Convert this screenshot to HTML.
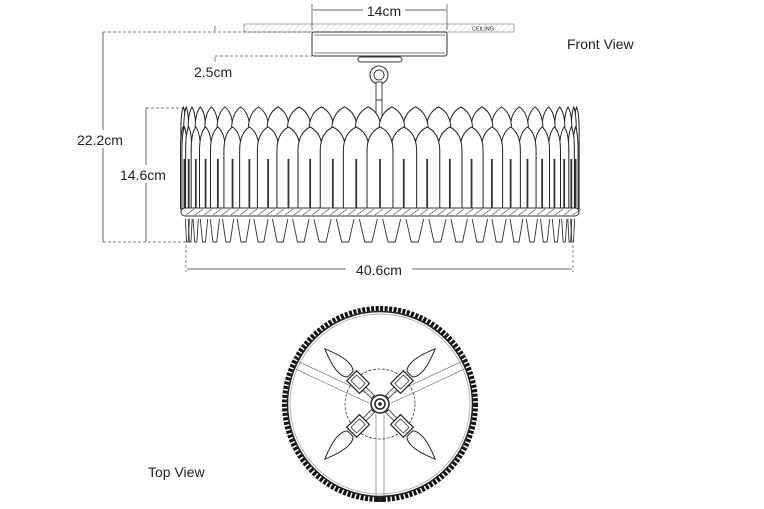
<!DOCTYPE html>
<html><head><meta charset="utf-8"><style>
html,body{margin:0;padding:0;background:#fff;}
svg{display:block;}
text{font-family:"Liberation Sans",sans-serif;fill:#222;}
</style></head><body>
<svg id="s" width="764" height="509" viewBox="0 0 764 509" xmlns="http://www.w3.org/2000/svg">
<defs>
<pattern id="h" width="6" height="8" patternUnits="userSpaceOnUse" patternTransform="skewX(-45)">
<line x1="0" y1="0" x2="0" y2="8" stroke="#999" stroke-width="0.7"/></pattern>
</defs>
<rect x="244" y="24" width="270" height="8" fill="url(#h)" stroke="#999" stroke-width="0.8"/>
<text x="472" y="30.5" font-size="5.5">CEILING</text>
<line x1="312" y1="4" x2="312" y2="30" stroke="#444" stroke-width="0.7"/>
<line x1="447" y1="4" x2="447" y2="30" stroke="#444" stroke-width="0.7"/>
<line x1="313" y1="10" x2="363" y2="10" stroke="#333" stroke-width="0.8"/>
<line x1="405" y1="10" x2="446" y2="10" stroke="#333" stroke-width="0.8"/>
<text x="384" y="16" font-size="14" text-anchor="middle">14cm</text>
<rect x="312" y="32" width="135" height="24" rx="2" fill="#fff" stroke="#333" stroke-width="1"/>
<line x1="314" y1="35" x2="445" y2="35" stroke="#555" stroke-width="0.7"/>
<line x1="314" y1="53" x2="445" y2="53" stroke="#555" stroke-width="0.7"/>
<rect x="358" y="57" width="44" height="5" rx="2.5" fill="#fff" stroke="#333" stroke-width="0.9"/>
<circle cx="379" cy="75" r="9" fill="#fff" stroke="#333" stroke-width="1"/>
<circle cx="379" cy="75" r="5" fill="#fff" stroke="#333" stroke-width="0.9"/>
<rect x="376" y="82" width="6" height="18" fill="#fff" stroke="#333" stroke-width="0.9"/>
<rect x="376" y="100" width="6" height="22" fill="#fff" stroke="#333" stroke-width="0.9"/>
<g stroke="#555" stroke-width="0.7" stroke-dasharray="3,2" fill="none">
<line x1="103" y1="32" x2="312" y2="32"/>
<line x1="215" y1="56" x2="312" y2="56"/>
<line x1="103" y1="242" x2="186" y2="242"/>
<line x1="146" y1="108" x2="186" y2="108"/>
</g>
<line x1="103" y1="32" x2="103" y2="242" stroke="#444" stroke-width="0.8"/>
<line x1="146" y1="108" x2="146" y2="242" stroke="#444" stroke-width="0.8"/>
<line x1="215" y1="26" x2="215" y2="31" stroke="#444" stroke-width="0.7"/>
<line x1="215" y1="57" x2="215" y2="62" stroke="#444" stroke-width="0.7"/>
<rect x="72" y="130" width="60" height="18" fill="#fff"/>
<text x="77" y="145" font-size="14">22.2cm</text>
<rect x="118" y="165" width="56" height="18" fill="#fff"/>
<text x="120" y="180" font-size="14">14.6cm</text>
<text x="194" y="77" font-size="14">2.5cm</text>
<text x="567" y="49" font-size="14">Front View</text>
<line x1="186" y1="245" x2="186" y2="272" stroke="#555" stroke-width="0.7" stroke-dasharray="3,2"/>
<line x1="573" y1="245" x2="573" y2="272" stroke="#555" stroke-width="0.7" stroke-dasharray="3,2"/>
<line x1="187" y1="269" x2="346" y2="269" stroke="#333" stroke-width="0.8"/>
<line x1="412" y1="269" x2="572" y2="269" stroke="#333" stroke-width="0.8"/>
<text x="379" y="275" font-size="14" text-anchor="middle">40.6cm</text>
<g id="leaves"></g>
<rect x="181" y="208" width="398" height="8" rx="4" fill="#fff" stroke="#333" stroke-width="1"/>
<g id="band"></g>
<g id="teeth"></g>
<text x="148" y="477" font-size="14">Top View</text>
<g id="top"></g>
</svg>
<script>
var NS="http://www.w3.org/2000/svg";
function el(p,t,a){var e=document.createElementNS(NS,t);for(var k in a)e.setAttribute(k,a[k]);p.appendChild(e);return e;}
var L=document.getElementById('leaves');
function row(n,off,tip,w){
 var items=[];
 for(var i=0;i<n;i++){var th=Math.PI*(i+off)/n;var c=Math.cos(th);items.push({x:380-197*c,s:Math.sin(th)});}
 items.sort(function(a,b){return a.s-b.s;});
 items.forEach(function(o){
  var hw=Math.max(2.5,w*o.s/2),x=o.x;
  var d="M"+(x-hw)+",209 L"+(x-hw)+","+(tip+24)+" Q"+(x-hw)+","+(tip+6)+" "+x+","+tip+" Q"+(x+hw)+","+(tip+6)+" "+(x+hw)+","+(tip+24)+" L"+(x+hw)+",209 Z";
  el(L,'path',{d:d,fill:'#fff',stroke:'#222','stroke-width':1});
  el(L,'line',{x1:x,y1:tip+32,x2:x,y2:209,stroke:'#333','stroke-width':1.8});
 });
}
row(26,0.5,107,26);
row(26,0,127,26);
var B=document.getElementById('band');
for(var x=186;x<576;x+=9)el(B,'line',{x1:x,y1:215,x2:x+8,y2:209,stroke:'#555','stroke-width':0.7});
var T=document.getElementById('teeth');
for(var i=0;i<26;i++){var th=Math.PI*(i+0.5)/26,c=Math.cos(th),s=Math.sin(th);
 var x=380-193*c,hw=Math.max(2,9*s);
 el(T,'path',{d:"M"+(x-hw)+",219 L"+(x-hw*0.4)+",242 L"+(x+hw*0.4)+",242 L"+(x+hw)+",219",fill:'none',stroke:'#333','stroke-width':0.9});}
var G=document.getElementById('top'),cx=380,cy=404;
el(G,'circle',{cx:cx,cy:cy,r:95.5,fill:'none',stroke:'#111','stroke-width':5,'stroke-dasharray':'3,1.5'});
el(G,'circle',{cx:cx,cy:cy,r:92.5,fill:'none',stroke:'#222','stroke-width':1.5});
el(G,'circle',{cx:cx,cy:cy,r:90,fill:'none',stroke:'#999','stroke-width':0.7});
el(G,'circle',{cx:cx,cy:cy,r:35,fill:'none',stroke:'#444','stroke-width':0.8,'stroke-dasharray':'3,1.5'});
[-25,205,90].forEach(function(a){var r=a*Math.PI/180;
 [-4,4].forEach(function(o){var px=-Math.sin(r)*o,py=Math.cos(r)*o;
 el(G,'line',{x1:cx+px+Math.cos(r)*10,y1:cy+py+Math.sin(r)*10,x2:cx+px+Math.cos(r)*91,y2:cy+py+Math.sin(r)*91,stroke:'#666','stroke-width':0.6});});});
[-45,45,135,225].forEach(function(a){
 var g=el(G,'g',{transform:"translate("+cx+","+cy+") rotate("+a+")"});
 el(g,'rect',{x:10,y:-2,width:12,height:4,fill:'#fff',stroke:'#333','stroke-width':0.8});
 el(g,'rect',{x:22,y:-7,width:18,height:14,fill:'#fff',stroke:'#222','stroke-width':1.2});
 el(g,'rect',{x:25,y:-4,width:12,height:8,fill:'none',stroke:'#333','stroke-width':0.8});
 el(g,'path',{d:"M42,-4 Q50,-12 78,0 Q50,12 42,4 Z",fill:'#fff',stroke:'#222','stroke-width':1});
});
el(G,'circle',{cx:cx,cy:cy,r:9,fill:'#fff',stroke:'#222','stroke-width':1.5});
el(G,'circle',{cx:cx,cy:cy,r:5,fill:'none',stroke:'#222','stroke-width':1.5});
el(G,'circle',{cx:cx,cy:cy,r:1.8,fill:'#222'});
el(G,'rect',{x:377,y:496,width:6,height:6,fill:'#222'});
</script>
</body></html>
